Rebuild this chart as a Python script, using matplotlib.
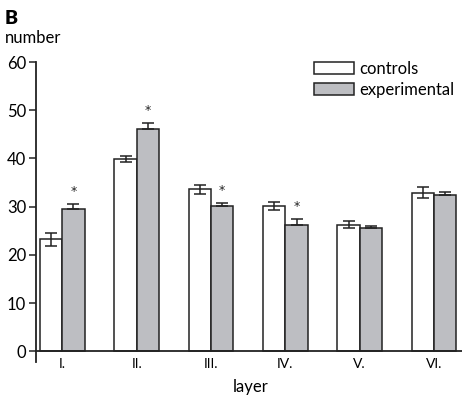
import matplotlib
matplotlib.use("Agg")
import matplotlib.pyplot as plt
import numpy as np

layers = ["I.", "II.", "III.", "IV.", "V.", "VI."]
controls = [23.2, 39.9, 33.6, 30.1, 26.3, 32.9]
controls_err = [1.3, 0.7, 1.0, 0.8, 0.65, 1.15]
experimental = [29.5, 46.1, 30.2, 26.3, 25.5, 32.4]
experimental_err = [1.0, 1.2, 0.6, 1.2, 0.6, 0.7]
significant = [True, True, True, True, False, False]

plt.rcParams['font.family'] = ['Lato', 'DejaVu Sans']
fs = 12

fig = plt.figure(figsize=(4.62, 3.97), dpi=100)
ax = fig.add_axes([36/462, 1-362/397, 1-36/462, 300/397])

x = np.arange(len(layers))
w = 0.30
ec = '#222222'
gray = '#bdbec2'
ax.bar(x - w/2, controls, w, color='white', edgecolor=ec, linewidth=1.1, label='controls', zorder=2)
ax.bar(x + w/2, experimental, w, color=gray, edgecolor=ec, linewidth=1.1, label='experimental', zorder=2)
ax.errorbar(x - w/2, controls, yerr=controls_err, fmt='none', ecolor=ec, elinewidth=1.1, capsize=4, capthick=1.1, zorder=3)
ax.errorbar(x + w/2, experimental, yerr=[[0]*len(x), experimental_err], fmt='none', ecolor=ec, elinewidth=1.1, capsize=4, capthick=1.1, zorder=3)

for xi, v, e, s in zip(x, experimental, experimental_err, significant):
    if s:
        ax.text(xi + w/2, v + e + 2.6, '*', ha='center', va='center', fontsize=9,
                family='DejaVu Sans', color=ec)

ax.set_xlim(-0.354, 5.375)
ax.set_ylim(-2.2, 60)
ax.set_yticks([0, 10, 20, 30, 40, 50, 60])
ax.set_xticks(x)
ax.set_xticklabels(layers, fontsize=fs)
ax.tick_params(axis='y', length=5, width=1.1, labelsize=fs, pad=2, color=ec)
ax.tick_params(axis='x', length=0, pad=5)
ax.spines['top'].set_visible(False)
ax.spines['right'].set_visible(False)
ax.spines['bottom'].set_position(('data', 0))
for sp in ('left', 'bottom'):
    ax.spines[sp].set_linewidth(1.3)
    ax.spines[sp].set_color(ec)
ax.spines['left'].set_bounds(-2.2, 60)

fig.text(251/462, 1-387/397, 'layer', ha='center', va='center', fontsize=fs)
fig.text(5/462, 1-38/397, 'number', ha='left', va='center', fontsize=fs)
fig.text(5/462, 1-18/397, 'B', ha='left', va='center', fontsize=14, fontweight='heavy')

leg = ax.legend(loc='upper left', bbox_to_anchor=(314/462, 1-61/397), bbox_transform=fig.transFigure,
                frameon=False, fontsize=fs, handlelength=2.4, handleheight=0.75,
                handletextpad=0.3, labelspacing=0.3, borderpad=0, borderaxespad=0)

fig.savefig('out.png', dpi=100)
